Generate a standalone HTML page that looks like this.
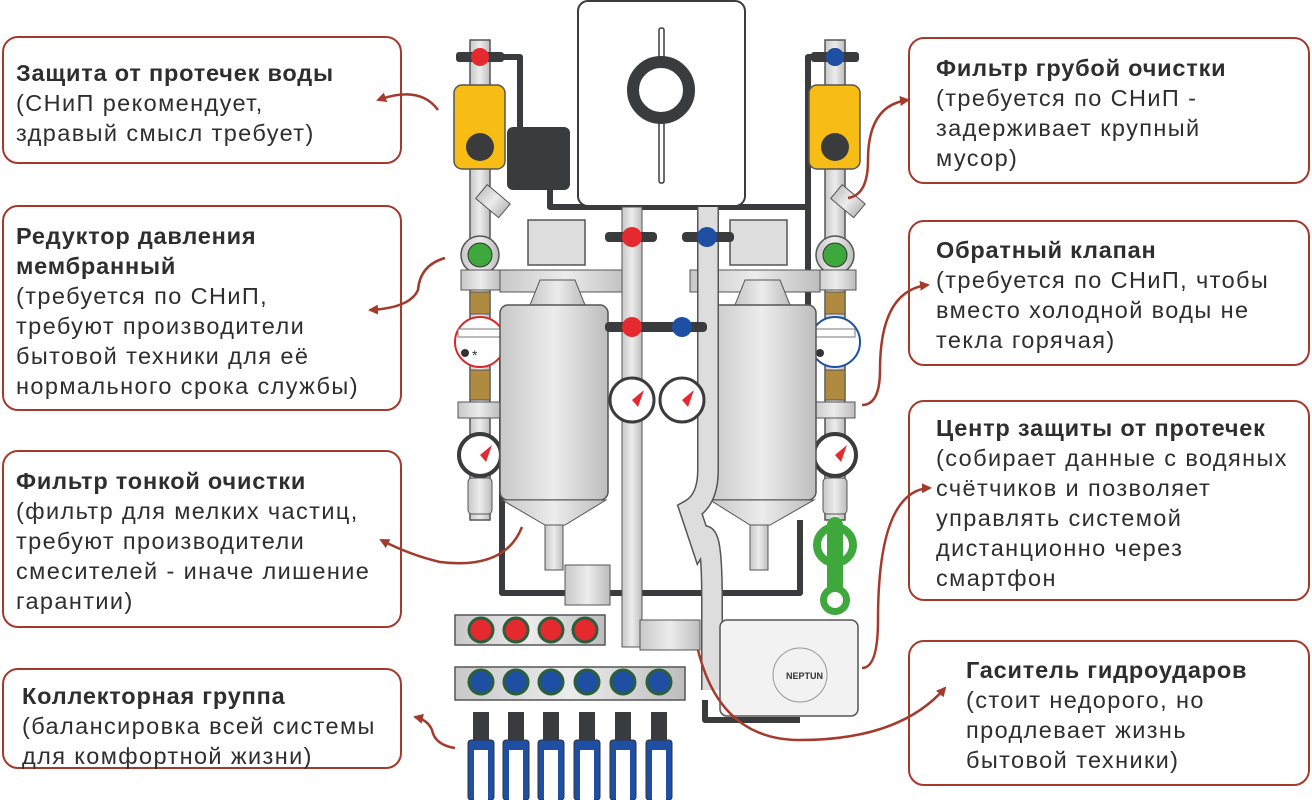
<!DOCTYPE html>
<html><head><meta charset="utf-8"><style>
html,body{margin:0;padding:0;background:#fff;}
body{width:1312px;height:800px;position:relative;overflow:hidden;font-family:"Liberation Sans",sans-serif;color:#2e2e2e;}
.b{position:absolute;border:2.5px solid #a43a2c;border-radius:16px;box-sizing:border-box;font-size:23.5px;letter-spacing:1.4px;line-height:30px;padding:0 12px;white-space:nowrap;}
.b b{font-weight:bold;letter-spacing:0.8px;}
svg{position:absolute;left:0;top:0;}
</style></head><body>
<svg width="1312" height="800" viewBox="0 0 1312 800">
<defs>
<linearGradient id="g" x1="0" x2="1"><stop offset="0" stop-color="#c8c8c8"/><stop offset=".5" stop-color="#ececec"/><stop offset="1" stop-color="#bdbdbd"/></linearGradient>
<marker id="ar" markerWidth="10" markerHeight="10" refX="8" refY="5" orient="auto" markerUnits="userSpaceOnUse"><path d="M0,0 L10,5 L0,10 z" fill="#a43a2c"/></marker>
</defs>
<g fill="none" stroke="#3a3b3d" stroke-width="6" stroke-linejoin="round">
<path d="M480,57 H520 V130"/>
<path d="M550,190 V207 H808 V57 H835"/>
<path d="M808,207 V460"/>
<path d="M502,330 V593 H800 V520"/>
<path d="M705,700 V720 H800"/>
</g>
<rect x="507" y="127" width="63" height="63" rx="6" fill="#3a3b3d"/>
<rect x="578" y="1" width="167" height="205" rx="10" fill="#fff" stroke="#3a3b3d" stroke-width="2"/>
<rect x="659" y="28" width="5" height="155" rx="2" fill="#fff" stroke="#3a3b3d" stroke-width="1.5"/>
<circle cx="661" cy="90" r="28" fill="#fff" stroke="#3a3b3d" stroke-width="12"/>
<g id="colL">
<rect x="470" y="40" width="20" height="480" fill="url(#g)" stroke="#555" stroke-width="1.5"/>
<rect x="456" y="52" width="48" height="10" rx="3" fill="#3a3b3d"/>
<circle cx="480" cy="57" r="9" fill="#e52a2f"/>
<rect x="454" y="85" width="51" height="84" rx="8" fill="#f7bd14" stroke="#555" stroke-width="1.5"/>
<circle cx="480" cy="147" r="14" fill="#3a3b3d"/>
<rect x="478" y="190" width="30" height="18" transform="rotate(40 490 200)" fill="url(#g)" stroke="#555"/>
<circle cx="480" cy="255" r="19" fill="url(#g)" stroke="#555" stroke-width="1.5"/>
<circle cx="480" cy="255" r="12" fill="#3fa83c" stroke="#333"/>
<rect x="461" y="270" width="40" height="20" fill="url(#g)" stroke="#555"/>
<rect x="470" y="292" width="20" height="22" fill="#b08a3e" stroke="#555"/>
<rect x="470" y="370" width="20" height="30" fill="#b08a3e" stroke="#555"/>
<rect x="458" y="402" width="42" height="16" fill="url(#g)" stroke="#555"/>
<circle cx="480" cy="455" r="21" fill="#fff" stroke="#3a3b3d" stroke-width="4"/>
<path d="M480,455 L492,445 L486,462 z" fill="#e52a2f"/>
<rect x="468" y="478" width="24" height="36" rx="4" fill="url(#g)" stroke="#555"/>
</g>
<circle cx="480" cy="342" r="25" fill="#fff" stroke="#d8262b" stroke-width="2"/>
<rect x="458" y="329" width="42" height="8" fill="#fff" stroke="#777"/>
<circle cx="465" cy="353" r="4" fill="#333"/><text x="472" y="360" font-size="14" fill="#333">*</text>
<use href="#colL" transform="translate(355,0)"/>
<circle cx="835" cy="57" r="9" fill="#1e4fa3"/>
<circle cx="835" cy="342" r="25" fill="#fff" stroke="#1e4fa3" stroke-width="2"/>
<rect x="813" y="329" width="42" height="8" fill="#fff" stroke="#777"/>
<circle cx="820" cy="353" r="4" fill="#333"/>
<rect x="528" y="220" width="57" height="45" fill="#ddd" stroke="#555" stroke-width="1.5"/>
<rect x="730" y="220" width="57" height="45" fill="#ddd" stroke="#555" stroke-width="1.5"/>
<rect x="500" y="270" width="130" height="22" fill="url(#g)" stroke="#555"/>
<rect x="690" y="270" width="130" height="22" fill="url(#g)" stroke="#555"/>
<g>
<path d="M540,280 L575,280 L585,305 L530,305 z" fill="url(#g)" stroke="#555"/>
<rect x="500" y="305" width="108" height="195" rx="8" fill="url(#g)" stroke="#555" stroke-width="1.5"/>
<path d="M502,500 L606,500 L565,525 L545,525 z" fill="url(#g)" stroke="#555"/>
<rect x="545" y="525" width="18" height="45" fill="url(#g)" stroke="#555"/>
<rect x="565" y="565" width="45" height="40" fill="url(#g)" stroke="#555"/>
</g>
<g>
<path d="M745,280 L780,280 L790,305 L735,305 z" fill="url(#g)" stroke="#555"/>
<rect x="708" y="305" width="108" height="195" rx="8" fill="url(#g)" stroke="#555" stroke-width="1.5"/>
<path d="M710,500 L814,500 L770,525 L750,525 z" fill="url(#g)" stroke="#555"/>
<rect x="750" y="525" width="18" height="45" fill="url(#g)" stroke="#555"/>
</g>
<rect x="622" y="207" width="20" height="440" fill="url(#g)" stroke="#555"/>
<path d="M708,207 V470 Q708,500 690,510 L700,540 Q712,520 712,600 V690" fill="none" stroke="#555" stroke-width="22"/>
<path d="M708,207 V470 Q708,500 690,510 L700,540 Q712,520 712,600 V690" fill="none" stroke="#ddd" stroke-width="19"/>
<rect x="605" y="232" width="52" height="10" rx="4" fill="#3a3b3d"/><circle cx="632" cy="237" r="10" fill="#e52a2f"/>
<rect x="682" y="232" width="52" height="10" rx="4" fill="#3a3b3d"/><circle cx="707" cy="237" r="10" fill="#1e4fa3"/>
<rect x="605" y="322" width="102" height="10" rx="4" fill="#3a3b3d"/>
<circle cx="632" cy="327" r="10" fill="#e52a2f"/><circle cx="682" cy="327" r="10" fill="#1e4fa3"/>
<circle cx="632" cy="400" r="22" fill="#fff" stroke="#3a3b3d" stroke-width="3"/>
<circle cx="682" cy="400" r="22" fill="#fff" stroke="#3a3b3d" stroke-width="3"/>
<path d="M632,400 L644,390 L638,407z M682,400 L694,390 L688,407z" fill="#e52a2f"/>
<rect x="640" y="620" width="60" height="30" fill="url(#g)" stroke="#555"/>
<rect x="455" y="615" width="150" height="30" fill="url(#g)" stroke="#555" stroke-width="1.5"/>
<rect x="455" y="667" width="230" height="33" fill="url(#g)" stroke="#555" stroke-width="1.5"/>
<g stroke="#2b5e3a" stroke-width="3">
<circle cx="481" cy="630" r="12" fill="#e52a2f"/><circle cx="516" cy="630" r="12" fill="#e52a2f"/><circle cx="551" cy="630" r="12" fill="#e52a2f"/><circle cx="585" cy="630" r="12" fill="#e52a2f"/>
<circle cx="481" cy="682" r="12" fill="#1e4fa3"/><circle cx="516" cy="682" r="12" fill="#1e4fa3"/><circle cx="551" cy="682" r="12" fill="#1e4fa3"/><circle cx="587" cy="682" r="12" fill="#1e4fa3"/><circle cx="623" cy="682" r="12" fill="#1e4fa3"/><circle cx="659" cy="682" r="12" fill="#1e4fa3"/>
</g>
<g fill="#1e4fa3" stroke="#333">
<rect x="468" y="740" width="26" height="60" rx="3"/><rect x="503" y="740" width="26" height="60" rx="3"/><rect x="538" y="740" width="26" height="60" rx="3"/><rect x="574" y="740" width="26" height="60" rx="3"/><rect x="610" y="740" width="26" height="60" rx="3"/><rect x="646" y="740" width="26" height="60" rx="3"/>
</g>
<g fill="#fff"><rect x="474" y="750" width="14" height="50"/><rect x="509" y="750" width="14" height="50"/><rect x="544" y="750" width="14" height="50"/><rect x="580" y="750" width="14" height="50"/><rect x="616" y="750" width="14" height="50"/><rect x="652" y="750" width="14" height="50"/></g>
<g fill="#3a3b3d"><rect x="473" y="712" width="16" height="28"/><rect x="508" y="712" width="16" height="28"/><rect x="543" y="712" width="16" height="28"/><rect x="579" y="712" width="16" height="28"/><rect x="615" y="712" width="16" height="28"/><rect x="651" y="712" width="16" height="28"/></g>
<rect x="720" y="620" width="138" height="96" rx="7" fill="#f2f2f2" stroke="#555" stroke-width="1.5"/>
<circle cx="800" cy="675" r="27" fill="none" stroke="#999"/>
<text x="786" y="679" font-size="9" font-weight="bold" fill="#333">NEPTUN</text>
<path d="M835,525 V600" stroke="#3fa83c" stroke-width="16" stroke-linecap="round"/>
<circle cx="835" cy="545" r="18" fill="none" stroke="#3fa83c" stroke-width="8"/>
<circle cx="835" cy="600" r="15" fill="#3fa83c"/><circle cx="835" cy="600" r="8" fill="#fff"/>
<g fill="none" stroke="#a43a2c" stroke-width="2.5" marker-end="url(#ar)">
<path d="M438,110 Q420,85 378,100"/>
<path d="M445,258 Q420,265 418,290 Q410,308 370,310"/>
<path d="M522,527 Q505,570 440,562 Q410,555 381,540"/>
<path d="M455,748 Q435,745 432,730 Q428,720 415,717"/>
<path d="M848,198 Q868,195 868,160 Q868,105 908,100"/>
<path d="M862,405 Q880,405 880,370 Q880,290 928,285"/>
<path d="M862,668 Q878,668 878,620 Q878,490 930,488"/>
<path d="M698,650 Q720,740 800,740 Q900,740 945,688"/>
</g>
</svg>
<div class="b" style="left:2px;top:36px;width:400px;height:128px;padding-top:20px"><b>Защита от протечек воды</b><br>(СНиП рекомендует,<br>здравый смысл требует)</div>
<div class="b" style="left:2px;top:205px;width:400px;height:206px;padding-top:14px"><b>Редуктор давления<br>мембранный</b><br>(требуется по СНиП,<br>требуют производители<br>бытовой техники для её<br>нормального срока службы)</div>
<div class="b" style="left:2px;top:450px;width:400px;height:178px;padding-top:14px"><b>Фильтр тонкой очистки</b><br>(фильтр для мелких частиц,<br>требуют производители<br>смесителей - иначе лишение<br>гарантии)</div>
<div class="b" style="left:2px;top:668px;width:400px;height:101px;padding-top:11px;padding-left:18px"><b>Коллекторная группа</b><br>(балансировка всей системы<br>для комфортной жизни)</div>
<div class="b" style="left:908px;top:37px;width:402px;height:147px;padding-top:14px;padding-left:26px"><b>Фильтр грубой очистки</b><br>(требуется по СНиП -<br>задерживает крупный<br>мусор)</div>
<div class="b" style="left:908px;top:220px;width:402px;height:146px;padding-top:13px;padding-left:26px"><b>Обратный клапан</b><br>(требуется по СНиП, чтобы<br>вместо холодной воды не<br>текла горячая)</div>
<div class="b" style="left:908px;top:400px;width:402px;height:201px;padding-top:11px;padding-left:26px"><b>Центр защиты от протечек</b><br>(собирает данные с водяных<br>счётчиков и позволяет<br>управлять системой<br>дистанционно через<br>смартфон</div>
<div class="b" style="left:908px;top:640px;width:402px;height:146px;padding-top:13px;padding-left:56px"><b>Гаситель гидроударов</b><br>(стоит недорого, но<br>продлевает жизнь<br>бытовой техники)</div>
</body></html>
